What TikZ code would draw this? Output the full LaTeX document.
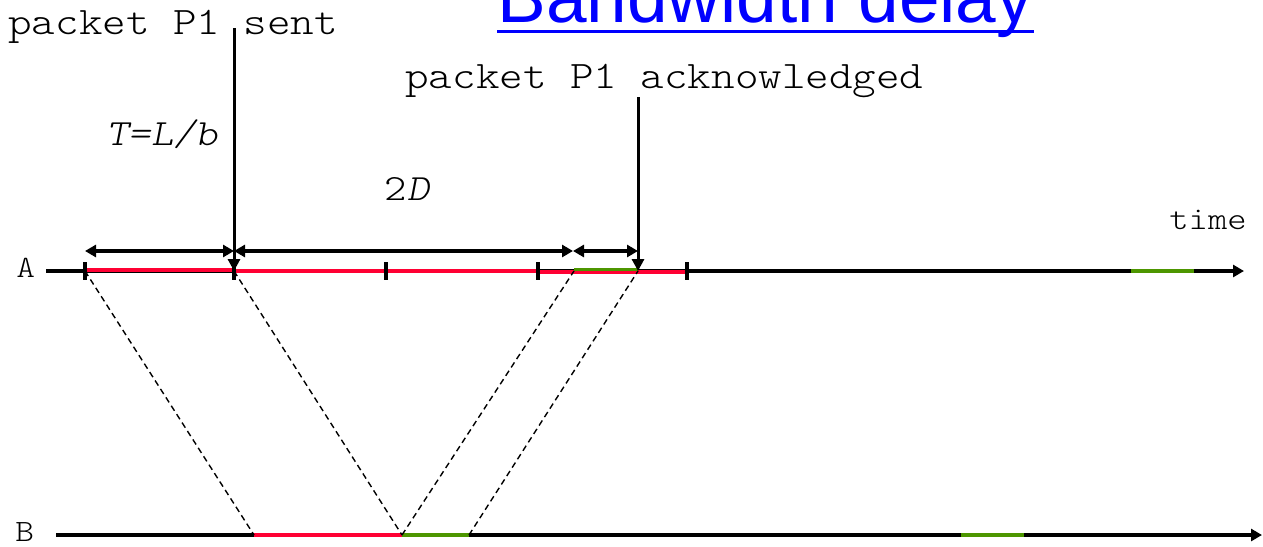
\documentclass[tikz,border=0pt]{standalone}
\usepackage{fontspec}
\setmainfont{Liberation Serif}
\newfontfamily\monofont{lmmonolt10-regular.otf}[ItalicFont=lmmonolt10-oblique.otf, FakeStretch=1.15]
\newfontfamily\titlefont{Liberation Sans}
\usetikzlibrary{arrows.meta}
\definecolor{pktred}{RGB}{255,0,51}
\definecolor{ackgreen}{RGB}{77,150,0}
\definecolor{titleblue}{RGB}{0,0,255}
\tikzset{
  lbl/.style={inner sep=0pt, anchor=base west, font=\monofont\fontsize{19.5}{20}\selectfont},
  axis/.style={line width=1.7pt, -{Triangle[length=5.5pt,width=6pt]}},
  marker/.style={line width=1.5pt, -{Triangle[length=6pt,width=6pt]}},
  span/.style={line width=1.6pt, {Triangle[length=5.5pt,width=6pt]}-{Triangle[length=5.5pt,width=6pt]}},
  tick/.style={line width=1.9pt},
  redseg/.style={pktred, line width=2.1pt},
  greenseg/.style={ackgreen, line width=1.7pt},
  prop/.style={line width=0.7pt, dash pattern=on 3pt off 2pt},
}
\begin{document}
\begin{tikzpicture}[x=0.5pt,y=-0.5pt]
\useasboundingbox (0,0) rectangle (1263,546);
% title
\node[inner sep=0pt, anchor=base west, text=titleblue, font=\titlefont\fontsize{36.5}{38}\selectfont] (title) at (497,22) {Bandwidth delay};
\draw[titleblue, line width=1.5pt] (title.south west |- 0,31) -- (title.south east |- 0,31);
% axes
\coordinate (A0) at (46,271);
\coordinate (A1) at (1244,271);
\coordinate (B0) at (56,535);
\coordinate (B1) at (1262,535);
\node[inner sep=0pt, anchor=base west, font=\monofont\fontsize{15.5}{16}\selectfont] (Alab) at (16,277) {A};
\node[inner sep=0pt, anchor=base west, font=\monofont\fontsize{15.5}{16}\selectfont] (Blab) at (15,541) {B};
\draw[axis] (A0) -- (A1);
\draw[axis] (B0) -- (B1);
% points on A
\coordinate (t0) at (85,271);
\coordinate (t1) at (234,271);
\coordinate (t2) at (386,271);
\coordinate (t3) at (538,271);
\coordinate (t4) at (687,271);
\coordinate (g0) at (574,271);
\coordinate (g1) at (638,271);
% coloured segments on A
\draw[redseg] ([yshift=0.5pt]t0) -- ([yshift=0.5pt]t1);
\draw[redseg] ([yshift=0pt]t1) -- ([yshift=0pt]t3);
\draw[redseg] ([yshift=-0.6pt]t3) -- ([yshift=-0.6pt]t4);
\draw[greenseg] ([yshift=0.9pt]g0) -- ([yshift=0.9pt]g1);
\draw[greenseg] (1131,271) -- (1194,271);
% ticks
\foreach \t in {t0,t1,t2,t3,t4}
  \draw[tick] ([yshift=4.5pt]\t) -- ([yshift=-4.5pt]\t);
% points on B
\coordinate (b0) at (254,535);
\coordinate (b1) at (402,535);
\coordinate (b2) at (469,535);
\draw[redseg] (b0) -- (b1);
\draw[greenseg] (b1) -- (b2);
\draw[greenseg] (961,535) -- (1024,535);
% propagation lines
\draw[prop] (t0) -- (b0);
\draw[prop] (t1) -- (b1);
\draw[prop] (b1) -- (g0);
\draw[prop] (b2) -- (g1);
% labels and markers
\node[lbl] (sent) at (8,34) {packet P1 sent};
\node[lbl] (ack) at (405,88) {packet P1 acknowledged};
\coordinate (s0) at (234,28);
\coordinate (k0) at (638,97);
\draw[marker] (s0) -- (t1);
\draw[marker] (k0) -- (g1);
\node[lbl, font=\monofont\itshape\fontsize{18.5}{19}\selectfont] (T) at (106,145) {T=L/b};
\node[lbl, font=\monofont\fontsize{18.5}{19}\selectfont] (twoD) at (384,200) {2\kern0.5pt{\itshape D}};
\node[lbl, font=\monofont\fontsize{16}{17}\selectfont] (time) at (1169,229) {time};
% spans
\coordinate (d0) at (85,251);
\coordinate (d1) at (234,251);
\coordinate (d2) at (573,251);
\coordinate (d3) at (638,251);
\draw[span] (d0) -- (d1);
\draw[span] (d1) -- (d2);
\draw[span] (d2) -- (d3);
\end{tikzpicture}
\end{document}
